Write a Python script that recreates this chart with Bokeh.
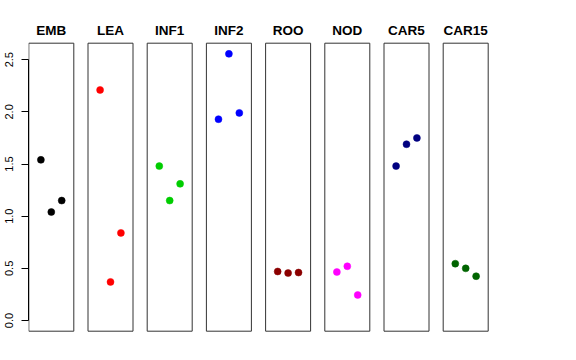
from bokeh.plotting import figure
from bokeh.models import Range1d, FixedTicker, ColumnDataSource
from bokeh.embed import file_html
from bokeh.resources import INLINE
from bokeh.core.properties import value

# ---- data ----
groups = ["EMB", "LEA", "INF1", "INF2", "ROO", "NOD", "CAR5", "CAR15"]
colors = ["#000000", "#FF0000", "#00CD00", "#0000FF", "#8B0000", "#FF00FF", "#000080", "#006400"]
emb = [1.54, 1.04, 1.15]
lea = [2.21, 0.37, 0.84]
inf1 = [1.48, 1.15, 1.31]
inf2 = [1.93, 2.556, 1.99]
roo = [0.47, 0.455, 0.46]
nod = [0.465, 0.52, 0.245]
car5 = [1.48, 1.69, 1.75]
car15 = [0.545, 0.50, 0.425]
series = [emb, lea, inf1, inf2, roo, nod, car5, car15]
y_ticks = [0.0, 0.5, 1.0, 1.5, 2.0, 2.5]
y_tick_labels = ["0.0", "0.5", "1.0", "1.5", "2.0", "2.5"]

# ---- layout (R-like panels: xlim 0..4, ylim 0..max, 4% expansion) ----
px_x = 10.417            # pixels per x unit
px_y = 104.35            # pixels per y unit
pitch = 59.2 / px_x      # panel pitch in x units
ymax = max(max(s) for s in series)
ypad = 0.04 * ymax
box_bottom = 0.0 - ypad
box_top = ymax + ypad
xpad = 0.04 * 4

frame_left_border = 28
frame_w = 462
frame_top_px = 0.0
frame_bottom_px = 334.0
box_top_px = 42.7
box_bottom_px = 330.7
box_left_px = 28.3

x_start = -xpad - (box_left_px - frame_left_border) / px_x
x_end = x_start + frame_w / px_x
y_end = box_top + (box_top_px - frame_top_px) / px_y
y_start = box_bottom - (frame_bottom_px - box_bottom_px) / px_y

p = figure(width=frame_left_border + frame_w + 20, height=int(frame_bottom_px - frame_top_px) + 5,
           x_range=Range1d(x_start, x_end), y_range=Range1d(y_start, y_end),
           x_axis_location=None, y_axis_location="left",
           min_border_left=frame_left_border, min_border_right=20,
           min_border_top=0, min_border_bottom=5,
           output_backend="svg", toolbar_location=None)
p.xgrid.visible = False
p.ygrid.visible = False
p.outline_line_color = None
p.background_fill_color = "white"
p.border_fill_color = "white"

# panel boxes
lefts = [k * pitch - xpad for k in range(len(groups))]
rights = [k * pitch + 4 + xpad for k in range(len(groups))]
p.quad(left=lefts, right=rights, bottom=[box_bottom] * len(groups), top=[box_top] * len(groups),
       fill_color=None, line_color="#333333", line_width=1)

# titles
p.text(x=[k * pitch + 2 for k in range(len(groups))],
       y=[box_top + 12.7 / px_y] * len(groups), text=groups,
       text_align="center", text_baseline="middle",
       text_font=value("Liberation Sans"), text_font_style="bold",
       text_font_size="13.5px", text_color="black")

# points
xs, ys, cs = [], [], []
for k, (s, c) in enumerate(zip(series, colors)):
    for j, v in enumerate(s):
        xs.append(k * pitch + j + 1)
        ys.append(v)
        cs.append(c)
src = ColumnDataSource(dict(x=xs, y=ys, c=cs))
p.scatter("x", "y", source=src, size=7, fill_color="c", line_color="c", line_width=0.5)

# y axis
ax = p.yaxis[0]
ax.bounds = (0, 2.5)
ax.ticker = FixedTicker(ticks=y_ticks)
ax.major_label_overrides = {t: l for t, l in zip(y_ticks, y_tick_labels)}
ax.minor_tick_line_color = None
ax.major_tick_in = 0
ax.major_tick_out = 7
ax.major_label_standoff = 8
ax.major_label_orientation = "parallel"
ax.major_label_text_font = "Liberation Sans"
ax.major_label_text_font_size = "11px"
ax.major_label_text_color = "black"
ax.axis_line_color = "black"
ax.major_tick_line_color = "black"

open("out.html", "w").write(file_html(p, INLINE))
